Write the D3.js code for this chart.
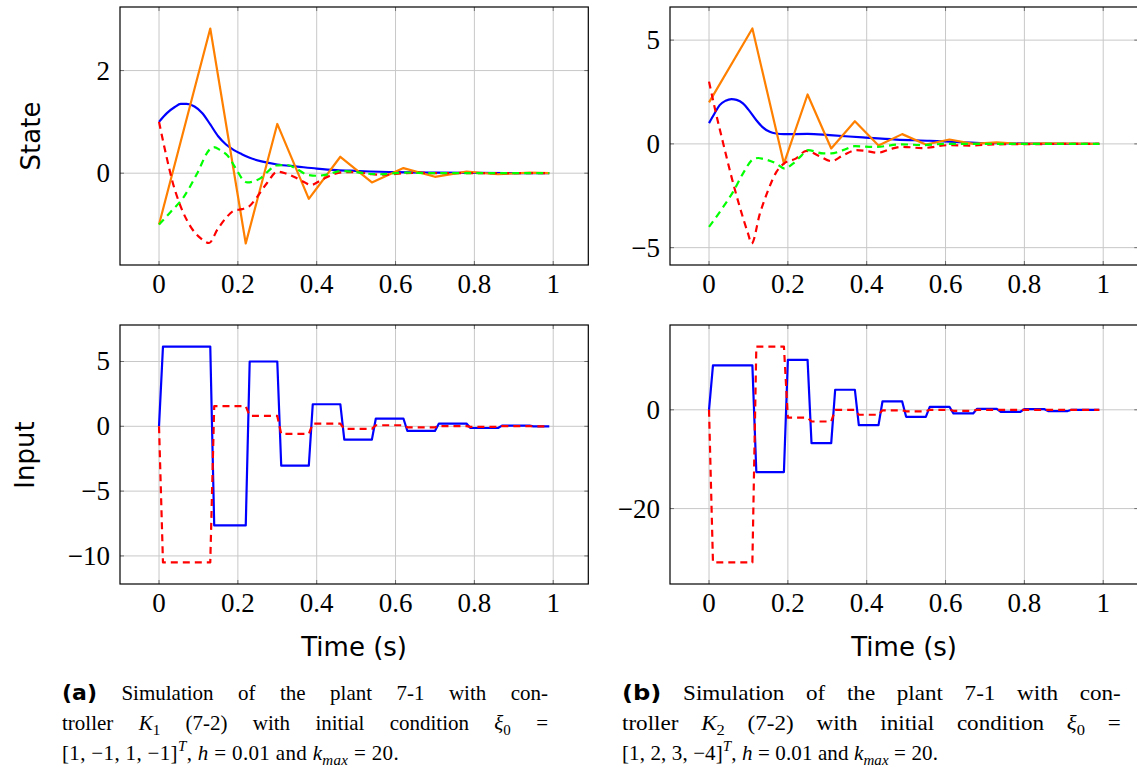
<!DOCTYPE html>
<html>
<head>
<meta charset="utf-8">
<script src="https://cdn.jsdelivr.net/npm/d3@7"></script>
<style>
  body { margin: 0; background: #fff; }
  svg { display: block; }
</style>
</head>
<body>
<svg id="fig" width="1137" height="773"></svg>
<script>
// ---- sampling ----
const tStart = 0;
const tEnd = 0.99;                 // last sample, h = 0.01
const xTicks = [0, 0.2, 0.4, 0.6, 0.8, 1];

// ---- (a) controller K1, xi0 = [1,-1,1,-1] : states [t, value] ----
const stateA1 = [[0,1.00],[0.02,1.17],[0.04,1.29],[0.055,1.35],[0.07,1.35],[0.09,1.30],[0.11,1.17],[0.13,0.95],
  [0.15,0.72],[0.17,0.56],[0.19,0.45],[0.21,0.37],[0.23,0.30],[0.26,0.23],[0.30,0.17],[0.35,0.13],[0.40,0.09],
  [0.45,0.06],[0.50,0.045],[0.60,0.02],[0.70,0.01],[0.80,0.005],[0.99,0]];
const stateA2 = [[0,-1],[0.13,2.82],[0.22,-1.37],[0.30,0.96],[0.38,-0.50],[0.46,0.32],[0.54,-0.18],[0.62,0.10],
  [0.70,-0.07],[0.78,0.03],[0.86,-0.02],[0.94,0.01],[0.99,0]];
const stateA3 = [[0,1],[0.017,0.39],[0.034,-0.16],[0.055,-0.65],[0.08,-1.04],[0.106,-1.27],[0.127,-1.36],
  [0.148,-1.10],[0.169,-0.88],[0.19,-0.73],[0.211,-0.70],[0.228,-0.65],[0.249,-0.46],[0.274,-0.19],[0.30,0.03],
  [0.32,0.0],[0.342,-0.07],[0.37,-0.18],[0.385,-0.23],[0.41,-0.14],[0.443,-0.02],[0.47,0.02],[0.50,0.02],
  [0.54,-0.02],[0.57,-0.03],[0.62,0.0],[0.66,0.01],[0.70,0.0],[0.99,0]];
const stateA4 = [[0,-1],[0.03,-0.75],[0.063,-0.46],[0.097,0.0],[0.127,0.45],[0.139,0.51],[0.155,0.45],
  [0.173,0.35],[0.198,0.05],[0.212,-0.12],[0.224,-0.18],[0.24,-0.16],[0.257,-0.10],[0.28,0.06],[0.295,0.15],
  [0.325,0.16],[0.35,0.08],[0.376,-0.03],[0.40,-0.05],[0.43,-0.02],[0.46,0.04],[0.49,0.03],[0.53,-0.01],
  [0.56,-0.02],[0.62,0.01],[0.70,0],[0.99,0]];

// ---- (a) inputs: held values between switching samples ----
const switchA = [0, 0.01, 0.14, 0.23, 0.31, 0.39, 0.47, 0.55, 0.63, 0.71, 0.79, 0.87, 0.95];
const inputA1 = [0, 6.15, -7.65, 5.0, -3.04, 1.70, -1.03, 0.60, -0.36, 0.21, -0.13, 0.05, 0];
const inputA2 = [0, -10.5, 1.55, 0.80, -0.59, 0.21, -0.20, 0.08, -0.08, 0.02, -0.04, 0.01, 0];

// ---- (b) controller K2, xi0 = [1,2,3,-4] : states [t, value] ----
const stateB1 = [[0,1.0],[0.015,1.5],[0.027,1.87],[0.042,2.08],[0.057,2.16],[0.07,2.12],[0.086,1.95],
  [0.10,1.65],[0.12,1.14],[0.135,0.82],[0.154,0.58],[0.17,0.50],[0.19,0.47],[0.25,0.48],[0.306,0.42],
  [0.39,0.31],[0.475,0.21],[0.56,0.15],[0.64,0.08],[0.73,0.03],[0.85,0.01],[0.99,0]];
const stateB2 = [[0,2.0],[0.11,5.56],[0.19,-0.95],[0.25,2.38],[0.31,-0.22],[0.37,1.09],[0.43,-0.08],
  [0.49,0.47],[0.55,-0.03],[0.61,0.21],[0.67,0.0],[0.73,0.07],[0.79,0.0],[0.85,0.03],[0.99,0]];
const stateB3 = [[0,3.0],[0.014,1.78],[0.036,0.02],[0.057,-1.59],[0.078,-3.04],[0.099,-4.32],[0.108,-4.80],
  [0.129,-3.36],[0.15,-2.23],[0.171,-1.35],[0.19,-0.95],[0.22,-0.71],[0.247,-0.34],[0.28,-0.59],[0.31,-0.83],
  [0.34,-0.55],[0.374,-0.30],[0.40,-0.35],[0.428,-0.43],[0.46,-0.25],[0.49,-0.14],[0.54,-0.20],[0.61,-0.06],
  [0.66,-0.08],[0.73,-0.02],[0.99,0]];
const stateB4 = [[0,-4.0],[0.036,-3.04],[0.061,-2.31],[0.086,-1.43],[0.112,-0.74],[0.125,-0.68],[0.137,-0.72],
  [0.171,-0.95],[0.192,-1.19],[0.213,-0.95],[0.235,-0.55],[0.251,-0.30],[0.29,-0.46],[0.31,-0.46],[0.34,-0.30],
  [0.37,-0.11],[0.42,-0.15],[0.49,-0.02],[0.54,-0.06],[0.60,0],[0.99,0]];

// ---- (b) inputs ----
const switchB = [0, 0.01, 0.12, 0.20, 0.26, 0.32, 0.38, 0.44, 0.50, 0.56, 0.62, 0.68, 0.74, 0.80, 0.86, 0.92];
const inputB1 = [0, 9.0, -12.6, 10.1, -6.76, 4.06, -3.11, 1.69, -1.42, 0.61, -0.74, 0.20, -0.40, 0.14, -0.25, 0];
const inputB2 = [0, -30.9, 12.8, -1.6, -2.37, 0.0, -1.0, -0.1, -0.3, 0, -0.2, 0, 0, 0, 0, 0];

// ---- tick values ----
const yTicksStateA = [0, 2];
const yTicksInputA = [-10, -5, 0, 5];
const yTicksStateB = [-5, 0, 5];
const yTicksInputB = [-20, 0];

// ---- styles ----
const COLORS = { x1: "#0000ff", x2: "#ff8000", x3: "#ff0000", x4: "#00ff00" };
const SERIF = "'Liberation Serif', 'DejaVu Serif', serif";
const SANS = "'DejaVu Sans', sans-serif";

// sample-and-hold input -> polyline points (value held until the sample before next switch)
function heldPoints(switches, values) {
  const pts = [];
  switches.forEach((t0, i) => {
    const t1 = i + 1 < switches.length ? +(switches[i + 1] - 0.01).toFixed(2) : tEnd;
    pts.push([t0, values[i]]);
    if (t1 > t0) pts.push([t1, values[i]]);
  });
  return pts;
}

function fmt(v) {
  return (v < 0 ? "\u2212" : "") + String(Math.abs(v));
}

const svg = d3.select("#fig");
let clipId = 0;

function panel(opt) {
  const { left, top, width, height, yTicks, series } = opt;
  const xr = tEnd - tStart;
  const x = d3.scaleLinear().domain([tStart - 0.1 * xr, tEnd + 0.1 * xr]).range([left, left + width]);
  const allV = series.flatMap(s => s.data.map(d => d[1]));
  const [lo, hi] = d3.extent(allV);
  const yr = hi - lo;
  const y = d3.scaleLinear().domain([lo - 0.1 * yr, hi + 0.1 * yr]).range([top + height, top]);

  const g = svg.append("g");
  const id = "clip" + (clipId++);
  g.append("clipPath").attr("id", id).append("rect")
    .attr("x", left).attr("y", top).attr("width", width).attr("height", height);

  // grid
  const grid = g.append("g").attr("stroke", "#c8c8c8").attr("stroke-width", 1);
  xTicks.forEach(t => grid.append("line").attr("x1", x(t)).attr("x2", x(t)).attr("y1", top).attr("y2", top + height));
  yTicks.forEach(v => grid.append("line").attr("x1", left).attr("x2", left + width).attr("y1", y(v)).attr("y2", y(v)));

  // tick marks on all four sides
  const tk = g.append("g").attr("stroke", "#6e6e6e").attr("stroke-width", 1);
  const L = 4;
  xTicks.forEach(t => {
    tk.append("line").attr("x1", x(t)).attr("x2", x(t)).attr("y1", top + height).attr("y2", top + height - L);
    tk.append("line").attr("x1", x(t)).attr("x2", x(t)).attr("y1", top).attr("y2", top + L);
  });
  yTicks.forEach(v => {
    tk.append("line").attr("x1", left).attr("x2", left + L).attr("y1", y(v)).attr("y2", y(v));
    tk.append("line").attr("x1", left + width).attr("x2", left + width - L).attr("y1", y(v)).attr("y2", y(v));
  });

  // data
  const plot = g.append("g").attr("clip-path", `url(#${id})`);
  series.forEach(s => {
    const line = d3.line().x(d => x(d[0])).y(d => y(d[1])).curve(s.smooth ? d3.curveMonotoneX : d3.curveLinear);
    plot.append("path").datum(s.data)
      .attr("d", line)
      .attr("fill", "none")
      .attr("stroke", s.color)
      .attr("stroke-width", 2.2)
      .attr("stroke-linejoin", "round")
      .attr("stroke-dasharray", s.dashed ? "7,5" : null);
  });

  // frame
  g.append("rect").attr("x", left).attr("y", top).attr("width", width).attr("height", height)
    .attr("fill", "none").attr("stroke", "#000").attr("stroke-width", 1.2);

  // tick labels
  const lab = g.append("g").attr("font-family", SERIF).attr("font-size", 27).attr("fill", "#000");
  xTicks.forEach(t => lab.append("text").attr("x", x(t)).attr("y", top + height + 28)
    .attr("text-anchor", "middle").text(fmt(t)));
  yTicks.forEach(v => lab.append("text").attr("x", left - 10).attr("y", y(v) + 9)
    .attr("text-anchor", "end").text(fmt(v)));
  return { x, y };
}

const W = 468.3;
const stateStyle = (d1, d2, d3s, d4) => [
  { data: d1, color: COLORS.x1, smooth: true },
  { data: d2, color: COLORS.x2, smooth: false },
  { data: d3s, color: COLORS.x3, smooth: true, dashed: true },
  { data: d4, color: COLORS.x4, smooth: true, dashed: true }
];

panel({ left: 120, top: 7, width: W, height: 258, yTicks: yTicksStateA,
  series: stateStyle(stateA1, stateA2, stateA3, stateA4) });
panel({ left: 670, top: 7, width: W, height: 258, yTicks: yTicksStateB,
  series: stateStyle(stateB1, stateB2, stateB3, stateB4) });
panel({ left: 120, top: 325, width: W, height: 259, yTicks: yTicksInputA,
  series: [
    { data: heldPoints(switchA, inputA1), color: COLORS.x1 },
    { data: heldPoints(switchA, inputA2), color: COLORS.x3, dashed: true }
  ] });
panel({ left: 670, top: 325, width: W, height: 259, yTicks: yTicksInputB,
  series: [
    { data: heldPoints(switchB, inputB1), color: COLORS.x1 },
    { data: heldPoints(switchB, inputB2), color: COLORS.x3, dashed: true }
  ] });

// axis titles
const titles = svg.append("g").attr("font-family", SANS).attr("font-size", 26).attr("fill", "#000");
titles.append("text").attr("transform", "translate(31,136) rotate(-90)")
  .attr("text-anchor", "middle").attr("dominant-baseline", "central").text("State");
titles.append("text").attr("transform", "translate(25,455) rotate(-90)")
  .attr("text-anchor", "middle").attr("dominant-baseline", "central").text("Input");
titles.append("text").attr("x", 120 + W / 2).attr("y", 656).attr("text-anchor", "middle").text("Time (s)");
titles.append("text").attr("x", 670 + W / 2).attr("y", 656).attr("text-anchor", "middle").text("Time (s)");

// ---- captions ----
// part: [text, kind] with kind in: "b" bold sans, "r" roman, "i" italic, "sub", "isub", "isup"
function buildLine(x, y, parts) {
  const t = svg.append("text").attr("x", x).attr("y", y)
    .attr("font-family", SERIF).attr("font-size", 21).attr("fill", "#000")
    .attr("xml:space", "preserve");
  let shift = 0;
  parts.forEach(([txt, kind]) => {
    const s = t.append("tspan").text(txt);
    let target = 0;
    if (kind === "b") s.attr("font-family", SANS).attr("font-weight", "bold").attr("font-size", 22);
    if (kind === "i" || kind === "isub" || kind === "isup") s.attr("font-style", "italic");
    if (kind === "sub" || kind === "isub") { target = 5; s.attr("font-size", 15); }
    if (kind === "isup") { target = -9; s.attr("font-size", 15); }
    if (target !== shift) { s.attr("dy", target - shift); shift = target; }
  });
  return t;
}
const nChars = parts => parts.reduce((n, p) => n + p[0].length, 0);
const nSpaces = parts => parts.reduce((n, p) => n + (p[0].match(/ /g) || []).length, 0);

// lines 1-2 are justified to the column width, the last line ends at lastEnd.
// widen: horizontal set width of the justified lines; the interword spaces take the rest
function caption(x, lines, width, lastEnd, widen) {
  const last = buildLine(x, 760, lines[2]);
  const ls0 = (lastEnd - x - last.node().getComputedTextLength()) / nChars(lines[2]);
  last.attr("letter-spacing", ls0);
  [700, 730].forEach((y, i) => {
    const t = buildLine(x, y, lines[i]);
    const natural = t.node().getComputedTextLength();
    const ws = (width / widen - natural) / nSpaces(lines[i]);
    t.attr("word-spacing", ws);
    if (widen !== 1) t.attr("transform", `translate(${x},0) scale(${widen},1) translate(${-x},0)`);
  });
}

caption(62, [
  [["(a)", "b"], [" Simulation of the plant 7-1 with con-", "r"]],
  [["troller ", "r"], ["K", "i"], ["1", "sub"], [" (7-2) with initial condition ", "r"], ["ξ", "i"], ["0", "sub"], [" =", "r"]],
  [["[1, \u22121, 1, \u22121]", "r"], ["T", "isup"], [", ", "r"], ["h", "i"], [" = 0.01 and ", "r"],
   ["k", "i"], ["max", "isub"], [" = 20.", "r"]]
], 486, 399, 1);

caption(622, [
  [["(b)", "b"], [" Simulation of the plant 7-1 with con-", "r"]],
  [["troller ", "r"], ["K", "i"], ["2", "sub"], [" (7-2) with initial condition ", "r"], ["ξ", "i"], ["0", "sub"], [" =", "r"]],
  [["[1, 2, 3, \u22124]", "r"], ["T", "isup"], [", ", "r"], ["h", "i"], [" = 0.01 and ", "r"],
   ["k", "i"], ["max", "isub"], [" = 20.", "r"]]
], 499, 938, 1.1);
</script>
</body>
</html>
